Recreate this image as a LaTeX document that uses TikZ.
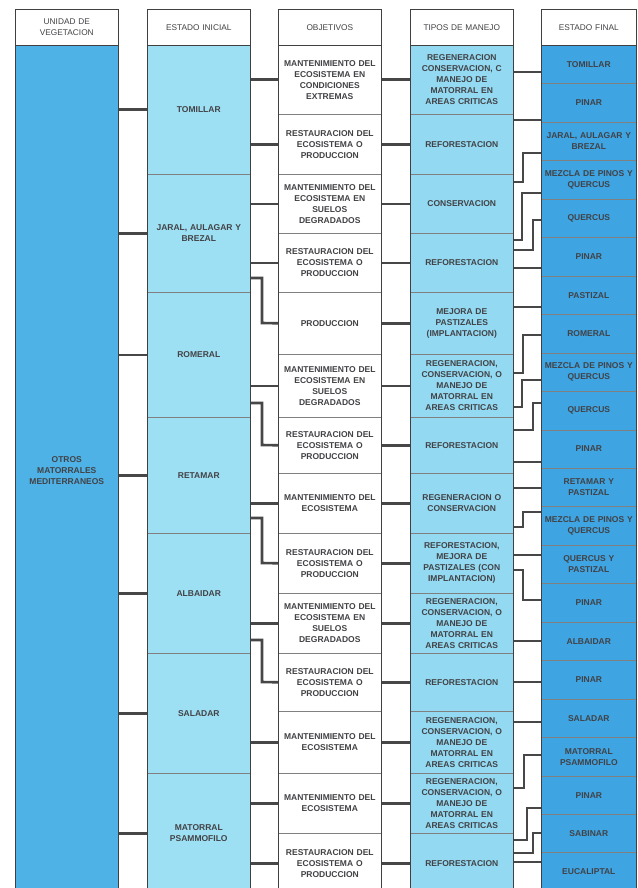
\documentclass[tikz,border=0pt]{standalone}
\usepackage{fontspec}
\setmainfont{Liberation Sans}
\definecolor{cOne}{RGB}{78,178,230}
\definecolor{cTwo}{RGB}{158,224,243}
\definecolor{cFour}{RGB}{146,217,241}
\definecolor{cFive}{RGB}{62,164,226}
\definecolor{ink}{RGB}{66,66,70}
\tikzset{
  cellbox/.style={draw=black!50, line width=0.6pt, anchor=north west, inner sep=0pt,
    align=center, text=ink, font=\fontsize{8.5}{11}\selectfont\bfseries},
  headbox/.style={cellbox, fill=white, minimum height=36pt,
    font=\fontsize{8.3}{11}\selectfont},
  wA/.style={minimum width=103pt, text width=101pt},
  wB/.style={minimum width=95pt, text width=95pt},
  colframe/.style={draw=black!75, line width=0.9pt},
  conn/.style={draw=black!72, line width=2.6pt},
}
\begin{document}
\begin{tikzpicture}[x=1pt,y=-1pt]
\useasboundingbox (0,0) rectangle (637,888);
\clip (0,0) rectangle (637,888);
\fill[white] (0,0) rectangle (637,888);
% headers
\node[headbox,wA] (h1) at (15,9) {UNIDAD DE\\VEGETACION};
\node[headbox,wA] (h2) at (147,9) {ESTADO INICIAL};
\node[headbox,wA] (h3) at (278,9) {OBJETIVOS};
\node[headbox,wA] (h4) at (410,9) {TIPOS DE MANEJO};
\node[headbox,wB] (h5) at (541,9) {ESTADO FINAL};
% column 1
\node[cellbox,wA,fill=cOne,minimum height=850pt] (c1) at (15,45) {OTROS\\MATORRALES\\MEDITERRANEOS};
% column 2
\node[cellbox,wA,fill=cTwo,minimum height=129pt] (s1) at (147,45) {TOMILLAR};
\node[cellbox,wA,fill=cTwo,minimum height=118pt] (s2) at (147,174) {JARAL, AULAGAR Y\\BREZAL};
\node[cellbox,wA,fill=cTwo,minimum height=125pt] (s3) at (147,292) {ROMERAL};
\node[cellbox,wA,fill=cTwo,minimum height=116pt] (s4) at (147,417) {RETAMAR};
\node[cellbox,wA,fill=cTwo,minimum height=120pt] (s5) at (147,533) {ALBAIDAR};
\node[cellbox,wA,fill=cTwo,minimum height=120pt] (s6) at (147,653) {SALADAR};
\node[cellbox,wA,fill=cTwo,minimum height=120pt] (s7) at (147,773) {MATORRAL\\PSAMMOFILO};
% column 3
\node[cellbox,wA,fill=white,minimum height=69pt] (o1) at (278,45) {MANTENIMIENTO DEL\\ECOSISTEMA EN\\CONDICIONES\\EXTREMAS};
\node[cellbox,wA,fill=white,minimum height=60pt] (o2) at (278,114) {RESTAURACION DEL\\ECOSISTEMA O\\PRODUCCION};
\node[cellbox,wA,fill=white,minimum height=59pt] (o3) at (278,174) {MANTENIMIENTO DEL\\ECOSISTEMA EN\\SUELOS\\DEGRADADOS};
\node[cellbox,wA,fill=white,minimum height=59pt] (o4) at (278,233) {RESTAURACION DEL\\ECOSISTEMA O\\PRODUCCION};
\node[cellbox,wA,fill=white,minimum height=62pt] (o5) at (278,292) {PRODUCCION};
\node[cellbox,wA,fill=white,minimum height=63pt] (o6) at (278,354) {MANTENIMIENTO DEL\\ECOSISTEMA EN\\SUELOS\\DEGRADADOS};
\node[cellbox,wA,fill=white,minimum height=56pt] (o7) at (278,417) {RESTAURACION DEL\\ECOSISTEMA O\\PRODUCCION};
\node[cellbox,wA,fill=white,minimum height=60pt] (o8) at (278,473) {MANTENIMIENTO DEL\\ECOSISTEMA};
\node[cellbox,wA,fill=white,minimum height=60pt] (o9) at (278,533) {RESTAURACION DEL\\ECOSISTEMA O\\PRODUCCION};
\node[cellbox,wA,fill=white,minimum height=60pt] (o10) at (278,593) {MANTENIMIENTO DEL\\ECOSISTEMA EN\\SUELOS\\DEGRADADOS};
\node[cellbox,wA,fill=white,minimum height=58pt] (o11) at (278,653) {RESTAURACION DEL\\ECOSISTEMA O\\PRODUCCION};
\node[cellbox,wA,fill=white,minimum height=62pt] (o12) at (278,711) {MANTENIMIENTO DEL\\ECOSISTEMA};
\node[cellbox,wA,fill=white,minimum height=60pt] (o13) at (278,773) {MANTENIMIENTO DEL\\ECOSISTEMA};
\node[cellbox,wA,fill=white,minimum height=60pt] (o14) at (278,833) {RESTAURACION DEL\\ECOSISTEMA O\\PRODUCCION};
% column 4
\node[cellbox,wA,fill=cFour,minimum height=69pt] (t1) at (410,45) {REGENERACION\\CONSERVACION, C\\MANEJO DE\\MATORRAL EN\\AREAS CRITICAS};
\node[cellbox,wA,fill=cFour,minimum height=60pt] (t2) at (410,114) {REFORESTACION};
\node[cellbox,wA,fill=cFour,minimum height=59pt] (t3) at (410,174) {CONSERVACION};
\node[cellbox,wA,fill=cFour,minimum height=59pt] (t4) at (410,233) {REFORESTACION};
\node[cellbox,wA,fill=cFour,minimum height=62pt] (t5) at (410,292) {MEJORA DE\\PASTIZALES\\(IMPLANTACION)};
\node[cellbox,wA,fill=cFour,minimum height=63pt] (t6) at (410,354) {REGENERACION,\\CONSERVACION, O\\MANEJO DE\\MATORRAL EN\\AREAS CRITICAS};
\node[cellbox,wA,fill=cFour,minimum height=56pt] (t7) at (410,417) {REFORESTACION};
\node[cellbox,wA,fill=cFour,minimum height=60pt] (t8) at (410,473) {REGENERACION O\\CONSERVACION};
\node[cellbox,wA,fill=cFour,minimum height=60pt] (t9) at (410,533) {REFORESTACION,\\MEJORA DE\\PASTIZALES (CON\\IMPLANTACION)};
\node[cellbox,wA,fill=cFour,minimum height=60pt] (t10) at (410,593) {REGENERACION,\\CONSERVACION, O\\MANEJO DE\\MATORRAL EN\\AREAS CRITICAS};
\node[cellbox,wA,fill=cFour,minimum height=58pt] (t11) at (410,653) {REFORESTACION};
\node[cellbox,wA,fill=cFour,minimum height=62pt] (t12) at (410,711) {REGENERACION,\\CONSERVACION, O\\MANEJO DE\\MATORRAL EN\\AREAS CRITICAS};
\node[cellbox,wA,fill=cFour,minimum height=60pt] (t13) at (410,773) {REGENERACION,\\CONSERVACION, O\\MANEJO DE\\MATORRAL EN\\AREAS CRITICAS};
\node[cellbox,wA,fill=cFour,minimum height=60pt] (t14) at (410,833) {REFORESTACION};
% column 5
\foreach \i/\t in {1/TOMILLAR,2/PINAR,3/{JARAL, AULAGAR Y\\BREZAL},4/{MEZCLA DE PINOS Y\\QUERCUS},5/QUERCUS,6/PINAR,7/PASTIZAL,8/ROMERAL,9/{MEZCLA DE PINOS Y\\QUERCUS},10/QUERCUS,11/PINAR,12/{RETAMAR Y\\PASTIZAL},13/{MEZCLA DE PINOS Y\\QUERCUS},14/{QUERCUS Y\\PASTIZAL},15/PINAR,16/ALBAIDAR,17/PINAR,18/SALADAR,19/{MATORRAL\\PSAMMOFILO},20/PINAR,21/SABINAR,22/EUCALIPTAL}{
  \node[cellbox,wB,fill=cFive,minimum height=38.45pt] (f\i) at (541,{45+38.45*(\i-1)}) {\t};
}
% column frames
\draw[colframe] (h1.north west) rectangle (c1.south east);
\draw[colframe] (h2.north west) rectangle (s7.south east);
\draw[colframe] (h3.north west) rectangle (o14.south east);
\draw[colframe] (h4.north west) rectangle (t14.south east);
\draw[colframe] (h5.north west) rectangle (f22.south east);
\foreach \n in {h1,h2,h3,h4,h5}{\draw[colframe] (\n.south west) -- (\n.south east);}
% connectors: column 1 -> column 2
\foreach \n in {s1,s2,s3,s4,s5,s6,s7}{\draw[conn] (c1.east |- \n.west) -- (\n.west);}
% column 2 -> column 3
\draw[conn] (s1.east |- o1.west) -- (o1.west);
\draw[conn] (s1.east |- o2.west) -- (o2.west);
\draw[conn] (s2.east |- o3.west) -- (o3.west);
\draw[conn] (s2.east |- o4.west) -- (o4.west);
\draw[conn] (s2.east |- 0,278) -- (262,278) -- (262,323) -- (o5.west);
\draw[conn] (s3.east |- o6.west) -- (o6.west);
\draw[conn] (s3.east |- 0,403) -- (262,403) -- (262,445) -- (o7.west);
\draw[conn] (s4.east |- o8.west) -- (o8.west);
\draw[conn] (s4.east |- 0,518) -- (262,518) -- (262,563) -- (o9.west);
\draw[conn] (s5.east |- o10.west) -- (o10.west);
\draw[conn] (s5.east |- 0,640) -- (262,640) -- (262,682) -- (o11.west);
\draw[conn] (s6.east |- o12.west) -- (o12.west);
\draw[conn] (s7.east |- o13.west) -- (o13.west);
\draw[conn] (s7.east |- o14.west) -- (o14.west);
% column 3 -> column 4
\foreach \i in {1,...,14}{\draw[conn] (o\i.east) -- (t\i.west);}
% column 4 -> column 5
\draw[conn] (t1.east |- 0,72) -- (f1.west |- 0,72);
\draw[conn] (t2.east |- 0,120) -- (f2.west |- 0,120);
\draw[conn] (t3.east |- 0,182) -- (523,182) -- (523,153) -- (f3.west |- 0,153);
\draw[conn] (t4.east |- 0,240) -- (522,240) -- (522,193) -- (f4.west |- 0,193);
\draw[conn] (t4.east |- 0,250) -- (533,250) -- (533,220) -- (f5.west |- 0,220);
\draw[conn] (t4.east |- 0,268) -- (f6.west |- 0,268);
\draw[conn] (t5.east |- 0,307) -- (f7.west |- 0,307);
\draw[conn] (t6.east |- 0,373) -- (523,373) -- (523,335) -- (f8.west |- 0,335);
\draw[conn] (t6.east |- 0,407) -- (522,407) -- (522,380) -- (f9.west |- 0,380);
\draw[conn] (t7.east |- 0,430) -- (533,430) -- (533,403) -- (f10.west |- 0,403);
\draw[conn] (t7.east |- 0,462) -- (f11.west |- 0,462);
\draw[conn] (t8.east |- 0,488) -- (f12.west |- 0,488);
\draw[conn] (t8.east |- 0,527) -- (523,527) -- (523,512) -- (f13.west |- 0,512);
\draw[conn] (t9.east |- 0,555) -- (f14.west |- 0,555);
\draw[conn] (t9.east |- 0,570) -- (523,570) -- (523,600) -- (f15.west |- 0,600);
\draw[conn] (t10.east |- 0,641) -- (f16.west |- 0,641);
\draw[conn] (t11.east |- 0,682) -- (f17.west |- 0,682);
\draw[conn] (t12.east |- 0,722) -- (f18.west |- 0,722);
\draw[conn] (t13.east |- 0,788) -- (524,788) -- (524,755) -- (f19.west |- 0,755);
\draw[conn] (t14.east |- 0,840) -- (527,840) -- (527,808) -- (f20.west |- 0,808);
\draw[conn] (t14.east |- 0,853) -- (533,853) -- (533,833) -- (f21.west |- 0,833);
\draw[conn] (t14.east |- 0,862) -- (f22.west |- 0,862);
\end{tikzpicture}
\end{document}
